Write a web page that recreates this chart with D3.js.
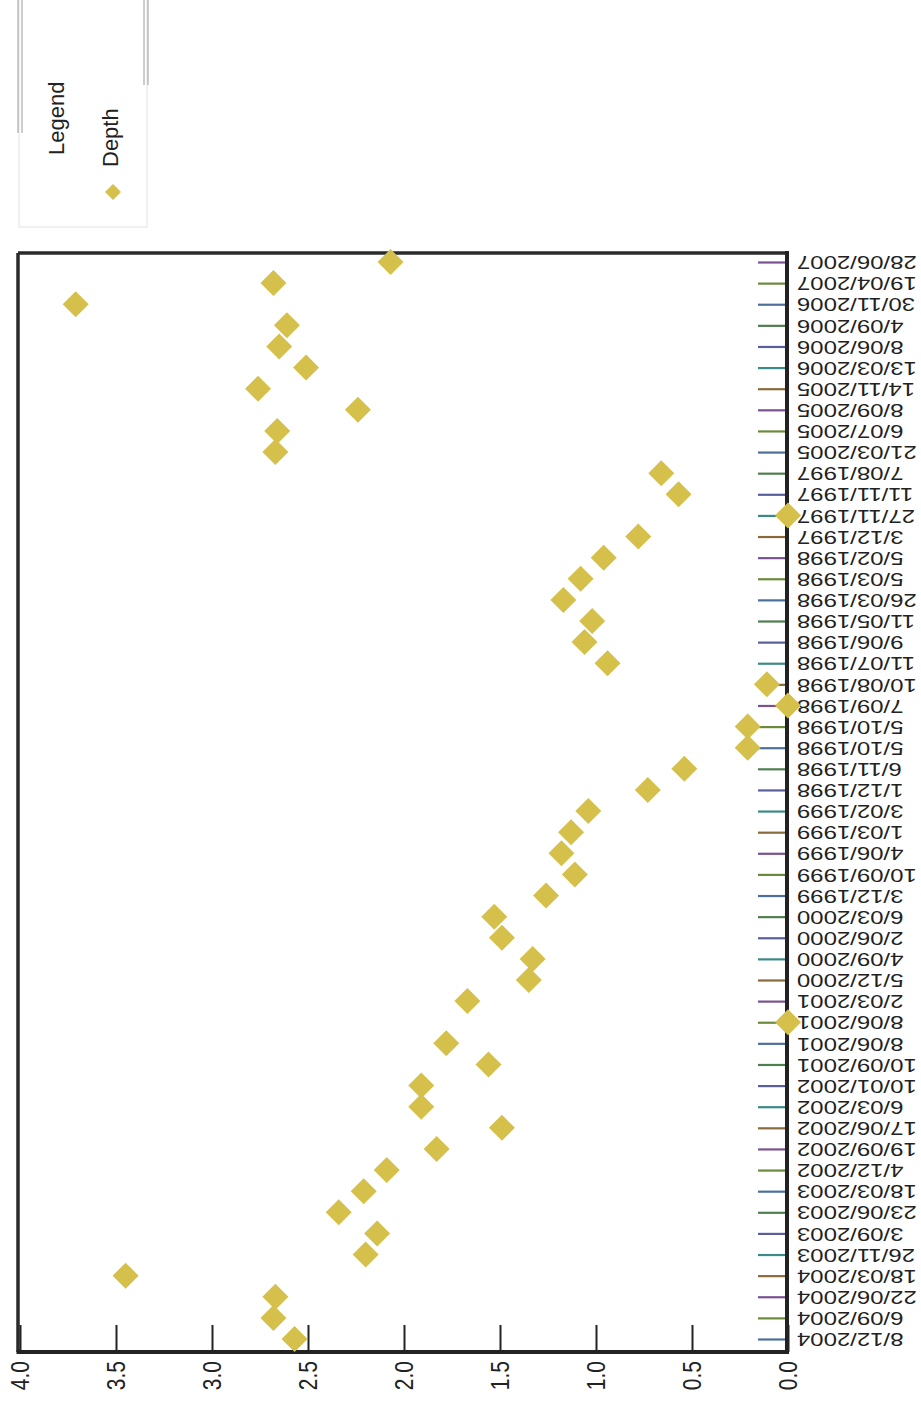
<!DOCTYPE html>
<html>
<head>
<meta charset="utf-8">
<script src="https://cdn.jsdelivr.net/npm/d3@7"></script>
<style>
  html, body { margin: 0; padding: 0; background: #fff; }
  svg { display: block; }
  text { font-family: "Liberation Sans", Arial, sans-serif; fill: #222; }
</style>
</head>
<body>
<svg id="chart" width="921" height="1404"></svg>
<script>
// Sample dates, listed from the first point (bottom) to the last (top)
const categories = [
  "8/12/2004", "6/09/2004", "22/06/2004", "18/03/2004", "26/11/2003", "3/09/2003",
  "23/06/2003", "18/03/2003", "4/12/2002", "19/09/2002", "17/06/2002", "6/03/2002",
  "10/01/2002", "10/09/2001", "8/06/2001", "8/06/2001", "2/03/2001", "5/12/2000",
  "4/09/2000", "2/06/2000", "6/03/2000", "3/12/1999", "10/09/1999", "4/06/1999",
  "1/03/1999", "3/02/1999", "1/12/1998", "6/11/1998", "5/10/1998", "5/10/1998",
  "7/09/1998", "10/08/1998", "11/07/1998", "9/06/1998", "11/05/1998", "26/03/1998",
  "5/03/1998", "5/02/1998", "3/12/1997", "27/11/1997", "11/11/1997", "7/08/1997",
  "21/03/2005", "6/07/2005", "8/09/2005", "14/11/2005", "13/03/2006", "8/06/2006",
  "4/09/2006", "30/11/2006", "19/04/2007", "28/06/2007"
];

// Depth reading for each date
const depth = [
  2.57, 2.68, 2.67, 3.45, 2.20, 2.14,
  2.34, 2.21, 2.09, 1.83, 1.49, 1.91,
  1.91, 1.56, 1.78, 0.00, 1.67, 1.35,
  1.33, 1.49, 1.53, 1.26, 1.11, 1.18,
  1.13, 1.04, 0.73, 0.54, 0.21, 0.21,
  0.00, 0.11, 0.94, 1.06, 1.02, 1.17,
  1.08, 0.96, 0.78, 0.00, 0.57, 0.66,
  2.67, 2.66, 2.24, 2.76, 2.51, 2.65,
  2.61, 3.71, 2.68, 2.07
];

const valueTicks = [0, 0.5, 1.0, 1.5, 2.0, 2.5, 3.0, 3.5, 4.0];
const valueTickLabels = ["0.0", "0.5", "1.0", "1.5", "2.0", "2.5", "3.0", "3.5", "4.0"];

const seriesName = "Depth";
const legendTitle = "Legend";

// ---- layout ----
const frame = { left: 18, top: 253, right: 787, bottom: 1352 };
const pointColor = "#d5c04b";
const tickPalette = ["#4d6f9c", "#6c8a3c", "#7b5290", "#8a6a3c", "#3c8a88", "#5a5e9c", "#4f7f4f"];

const svg = d3.select("#chart");

// value runs right-to-left along the bottom
const x = d3.scaleLinear().domain([0, 4]).range([788, 20]);
// dates run bottom-to-top along the right side
const y = d3.scalePoint()
  .domain(d3.range(categories.length))
  .range([1339, 262]);

// ---- frame ----
svg.append("line")
  .attr("x1", frame.left).attr("x2", frame.left)
  .attr("y1", frame.top).attr("y2", frame.bottom)
  .attr("stroke", "#2a2a2a").attr("stroke-width", 3.5);
svg.append("line")
  .attr("x1", frame.left).attr("x2", frame.right)
  .attr("y1", frame.top).attr("y2", frame.top)
  .attr("stroke", "#2a2a2a").attr("stroke-width", 3.5);

// ---- value axis (bottom) ----
const xAxis = d3.axisBottom(x)
  .tickValues(valueTicks)
  .tickFormat((d, i) => valueTickLabels[i])
  .tickSizeInner(-27)
  .tickSizeOuter(0);

const gx = svg.append("g")
  .attr("transform", `translate(0,${frame.bottom})`)
  .call(xAxis);
gx.select(".domain").remove();
gx.selectAll(".tick line").attr("stroke", "#222").attr("stroke-width", 2);
gx.selectAll(".tick text")
  .attr("x", null).attr("y", null)
  .attr("dy", "0.35em")
  .attr("text-anchor", "end")
  .attr("transform", "translate(0,9) rotate(-90) scale(1,1.2)")
  .style("font-size", "21px")
  .attr("fill", "#222");

// ---- date axis (right) ----
const yAxis = d3.axisRight(y)
  .tickFormat(i => categories[i])
  .tickSizeInner(-29)
  .tickSizeOuter(0);

const gy = svg.append("g")
  .attr("transform", `translate(${frame.right},0)`)
  .call(yAxis);
gy.select(".domain").remove();
gy.selectAll(".tick line")
  .attr("stroke", (d, i) => tickPalette[i % tickPalette.length])
  .attr("stroke-width", 2.2);
gy.selectAll(".tick text")
  .attr("x", null).attr("y", null)
  .attr("dy", "0.35em")
  .attr("text-anchor", "end")
  .attr("transform", "translate(10,0) scale(-1.33,-1)")
  .style("font-size", "18px")
  .attr("fill", "#222");

// axis lines on top of ticks
svg.append("line")
  .attr("x1", frame.right).attr("x2", frame.right)
  .attr("y1", frame.top - 2).attr("y2", frame.bottom + 2)
  .attr("stroke", "#222").attr("stroke-width", 4);
svg.append("line")
  .attr("x1", frame.left - 1.5).attr("x2", frame.right + 2)
  .attr("y1", frame.bottom).attr("y2", frame.bottom)
  .attr("stroke", "#222").attr("stroke-width", 4);

// ---- points ----
const diamond = r => `M0,${-r}L${r},0L0,${r}L${-r},0Z`;

svg.append("g")
  .selectAll("path")
  .data(depth)
  .join("path")
  .attr("d", diamond(13))
  .attr("transform", (d, i) => `translate(${x(d)},${y(i)})`)
  .attr("fill", pointColor);

// ---- legend ----
const lg = svg.append("g");
lg.append("rect")
  .attr("x", 19).attr("y", -4).attr("width", 128).attr("height", 231)
  .attr("fill", "#fff").attr("stroke", "#e2e2ea").attr("stroke-width", 1);
[18, 22].forEach(px => lg.append("line")
  .attr("x1", px).attr("x2", px).attr("y1", 0).attr("y2", 133)
  .attr("stroke", "#9a9a9a").attr("stroke-width", 1));
[144, 148].forEach(px => lg.append("line")
  .attr("x1", px).attr("x2", px).attr("y1", 0).attr("y2", 85)
  .attr("stroke", "#9a9a9a").attr("stroke-width", 1));

lg.append("text")
  .attr("transform", "translate(64,155) rotate(-90)")
  .attr("text-anchor", "start")
  .style("font-size", "22px")
  .text(legendTitle);
lg.append("text")
  .attr("transform", "translate(118,167) rotate(-90)")
  .attr("text-anchor", "start")
  .style("font-size", "22px")
  .text(seriesName);
lg.append("path")
  .attr("d", diamond(8))
  .attr("transform", "translate(113,192)")
  .attr("fill", pointColor);
</script>
</body>
</html>
